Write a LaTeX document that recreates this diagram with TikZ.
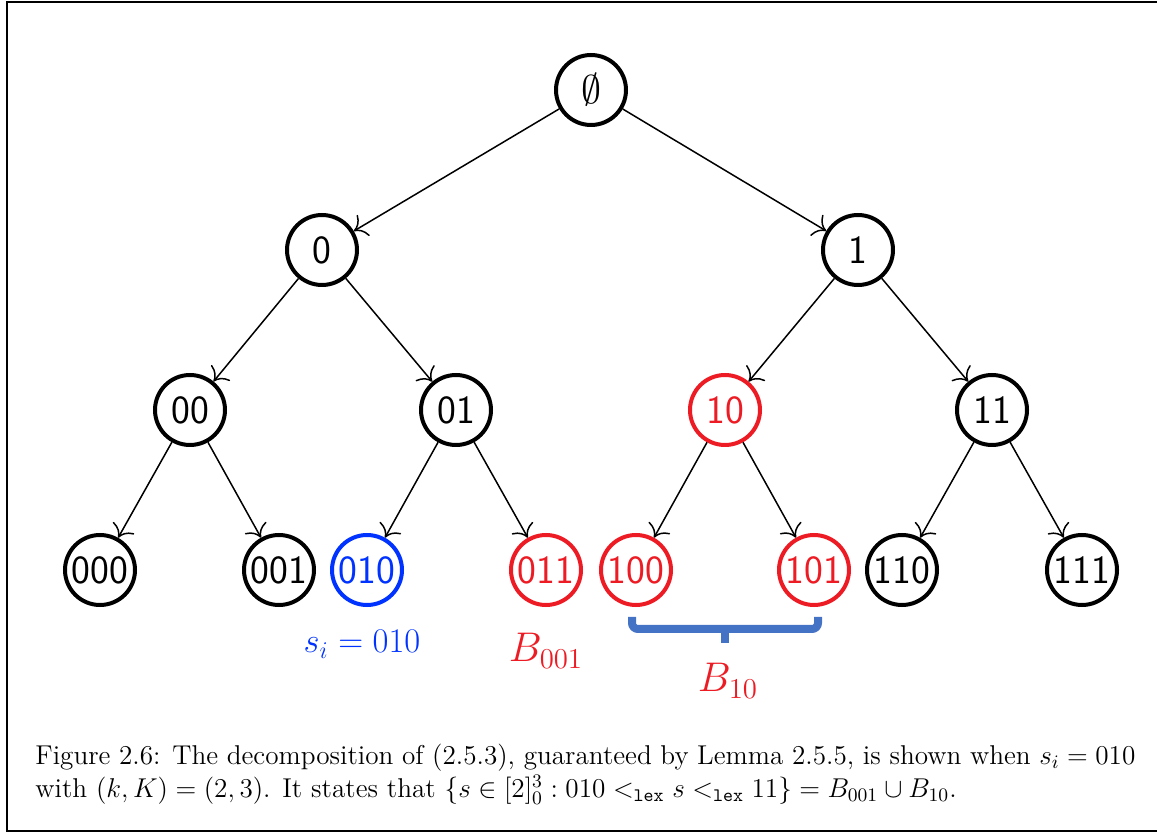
\RequirePackage{fix-cm}
\documentclass[tikz,border=0pt]{standalone}
\usepackage{amsmath,amssymb}
\usetikzlibrary{arrows.meta,positioning}
\definecolor{leafred}{RGB}{237,28,36}
\definecolor{siblue}{RGB}{0,51,255}
\definecolor{bracketblue}{RGB}{68,114,196}
\newcommand{\lexlt}{<_{\texttt{lex}}}

\begin{document}
\begin{tikzpicture}[x=0.5pt, y=-0.5pt,
    vertex/.style={circle, draw, line width=2pt, minimum size=35pt, inner sep=0pt,
                   font=\sffamily\fontsize{20}{24}\selectfont},
    redvertex/.style={vertex, draw=leafred, text=leafred},
    bluevertex/.style={vertex, draw=siblue, text=siblue},
    treeedge/.style={-{To[scale=1.8]}, line width=0.75pt}]
  \useasboundingbox (0,0) rectangle (1157,833);

  %% Frame
  \draw[line width=0.7pt] (1160,2) -- (7,2) -- (7,831) -- (1160,831);

  %% Tree vertices
  \node[vertex] (root) at (591,90) {$\emptyset$};
  \node[vertex] (n0) at (322,250) {0};
  \node[vertex] (n1) at (858,250) {1};
  \node[vertex] (n00) at (190,410) {00};
  \node[vertex] (n01) at (456,410) {01};
  \node[redvertex] (n10) at (725,410) {10};
  \node[vertex] (n11) at (992,410) {11};
  \node[vertex] (n000) at (100,570) {000};
  \node[vertex] (n001) at (279,570) {001};
  \node[bluevertex] (n010) at (367,570) {010};
  \node[redvertex] (n011) at (546,570) {011};
  \node[redvertex] (n100) at (636,570) {100};
  \node[redvertex] (n101) at (814,570) {101};
  \node[vertex] (n110) at (902,570) {110};
  \node[vertex] (n111) at (1082,570) {111};

  %% Edges
  \draw[treeedge] (root) -- (n0);
  \draw[treeedge] (root) -- (n1);
  \foreach \p in {0,1} {
    \draw[treeedge] (n\p) -- (n\p0);
    \draw[treeedge] (n\p) -- (n\p1);
  }
  \foreach \p in {00,01,10,11} {
    \draw[treeedge] (n\p) -- (n\p0);
    \draw[treeedge] (n\p) -- (n\p1);
  }

  %% Labels under the leaves
  \node[siblue, anchor=base, font=\fontsize{17.28}{20}\selectfont] (silabel) at (362,653) {$s_i = 010$};
  \node[leafred, anchor=base, font=\fontsize{20.74}{24}\selectfont] (blabel) at (546,662) {$B_{001}$};

  %% Bracket for B_10
  \draw[bracketblue, line width=4pt, rounded corners=3pt]
    (632,617) -- (632,629) -- (818,629) -- (818,617);
  \draw[bracketblue, line width=4pt] (725,629) -- (725,643);
  \node[leafred, anchor=base, font=\fontsize{20.74}{26}\selectfont] (bbrace) at (728,692) {$B_{10}$};

  %% Caption
  \node[anchor=north west, text width=550pt, align=justify, inner sep=0pt,
        font=\fontsize{13.6}{16.5}\selectfont] (caption) at (35,744)
    {Figure 2.6: The decomposition of (2.5.3), guaranteed by Lemma 2.5.5, is shown when $s_i = 010$\linebreak
     with $(k,K) = (2,3)$. It states that $\{s \in [2]_0^3 : 010 \lexlt s \lexlt 11\} = B_{001} \cup B_{10}$.};
\end{tikzpicture}
\end{document}
